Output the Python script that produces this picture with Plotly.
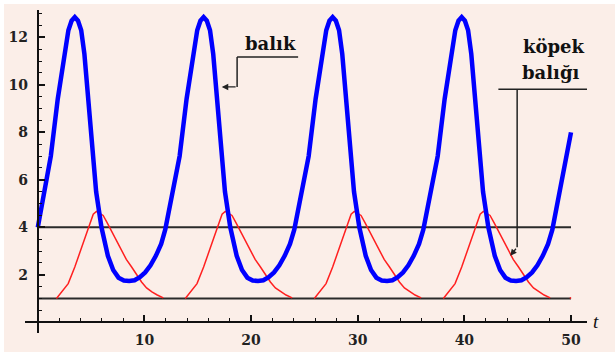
import plotly.graph_objects as go

# ---- data ----
fish_t = [0.0, 0.27, 0.77, 1.22, 1.87, 2.52, 2.87, 3.17, 3.47, 3.77, 4.07, 4.37, 4.67, 5.07, 5.47, 5.97,
          6.57, 7.07, 7.57, 8.07, 8.57, 9.07, 9.57, 10.07, 10.57, 11.07, 11.57, 11.95,
          12.35, 12.85, 13.3, 13.95, 14.6, 14.95, 15.25, 15.55, 15.85, 16.15, 16.45, 16.75, 17.15, 17.55, 18.05,
          18.65, 19.15, 19.65, 20.15, 20.65, 21.15, 21.65, 22.15, 22.65, 23.15, 23.65, 24.05,
          24.45, 24.95, 25.4, 26.05, 26.7, 27.05, 27.35, 27.65, 27.95, 28.25, 28.55, 28.85, 29.25, 29.65, 30.15,
          30.75, 31.25, 31.75, 32.25, 32.75, 33.25, 33.75, 34.25, 34.75, 35.25, 35.75, 36.15,
          36.55, 37.05, 37.5, 38.15, 38.8, 39.15, 39.45, 39.75, 40.05, 40.35, 40.65, 40.95, 41.35, 41.75, 42.25,
          42.85, 43.35, 43.85, 44.35, 44.85, 45.35, 45.85, 46.35, 46.85, 47.35, 47.85, 48.25,
          48.65, 49.15, 49.6, 50.0]
fish_y = [4.0, 4.7, 5.9, 7.0, 9.4, 11.3, 12.3, 12.7, 12.85, 12.7, 12.3, 11.3, 9.6, 7.3, 5.5, 4.0,
          2.8, 2.2, 1.88, 1.76, 1.74, 1.77, 1.9, 2.1, 2.4, 2.8, 3.3, 3.9,
          4.8, 5.9, 7.0, 9.4, 11.3, 12.3, 12.7, 12.85, 12.7, 12.3, 11.3, 9.6, 7.3, 5.5, 4.0,
          2.8, 2.2, 1.88, 1.76, 1.74, 1.77, 1.9, 2.1, 2.4, 2.8, 3.3, 3.9,
          4.8, 5.9, 7.0, 9.4, 11.3, 12.3, 12.7, 12.85, 12.7, 12.3, 11.3, 9.6, 7.3, 5.5, 4.0,
          2.8, 2.2, 1.88, 1.76, 1.74, 1.77, 1.9, 2.1, 2.4, 2.8, 3.3, 3.9,
          4.8, 5.9, 7.0, 9.4, 11.3, 12.3, 12.7, 12.85, 12.7, 12.3, 11.3, 9.6, 7.3, 5.5, 4.0,
          2.8, 2.2, 1.88, 1.76, 1.74, 1.77, 1.9, 2.1, 2.4, 2.8, 3.3, 3.9,
          4.8, 5.9, 7.0, 8.0]

shark_t = [1.75, 2.27, 2.85, 3.47, 4.1, 4.73, 5.2, 5.5, 5.8, 6.13, 6.5, 6.9, 7.4, 7.86, 8.3, 8.8, 9.25, 9.73,
           10.2, 10.7, 11.2, 11.77, None,
           13.83, 14.35, 14.93, 15.55, 16.18, 16.81, 17.28, 17.58, 17.88, 18.21, 18.58, 18.98, 19.48, 19.94,
           20.38, 20.88, 21.33, 21.81, 22.28, 22.78, 23.28, 23.85, None,
           25.93, 26.45, 27.03, 27.65, 28.28, 28.91, 29.38, 29.68, 29.98, 30.31, 30.68, 31.08, 31.58, 32.04,
           32.48, 32.98, 33.43, 33.91, 34.38, 34.88, 35.38, 35.95, None,
           38.03, 38.55, 39.13, 39.75, 40.38, 41.01, 41.48, 41.78, 42.08, 42.41, 42.78, 43.18, 43.68, 44.14,
           44.58, 45.08, 45.53, 46.01, 46.48, 46.98, 47.48, 48.05, None,
           49.9, 50.0]
shark_y = [1.0, 1.3, 1.63, 2.33, 3.17, 4.0, 4.55, 4.67, 4.6, 4.5, 4.2, 3.87, 3.45, 3.03, 2.65, 2.33, 2.0, 1.7,
           1.45, 1.28, 1.15, 1.03, None,
           1.0, 1.3, 1.63, 2.33, 3.17, 4.0, 4.55, 4.67, 4.6, 4.5, 4.2, 3.87, 3.45, 3.03,
           2.65, 2.33, 2.0, 1.7, 1.45, 1.28, 1.15, 1.03, None,
           1.0, 1.3, 1.63, 2.33, 3.17, 4.0, 4.55, 4.67, 4.6, 4.5, 4.2, 3.87, 3.45, 3.03,
           2.65, 2.33, 2.0, 1.7, 1.45, 1.28, 1.15, 1.03, None,
           1.0, 1.3, 1.63, 2.33, 3.17, 4.0, 4.55, 4.67, 4.6, 4.5, 4.2, 3.87, 3.45, 3.03,
           2.65, 2.33, 2.0, 1.7, 1.45, 1.28, 1.15, 1.03, None,
           1.0, 1.05]

level_t = [0, 50]
fish_level = [4, 4]
shark_level = [1, 1]

x_ticks = [10, 20, 30, 40, 50]
x_ticklabels = ["10", "20", "30", "40", "50"]
y_ticks = [2, 4, 6, 8, 10, 12]
y_ticklabels = ["2", "4", "6", "8", "10", "12"]

label_fish = "balık"
label_shark_1 = "köpek"
label_shark_2 = "balığı"
axis_label_t = "t"

# ---- figure ----
XR = [-1.2, 51.5]
YR = [-0.45, 13.15]
BG = "#FBEEE8"
SERIF = "DejaVu Serif"
ML, MR, MT, MB = 25, 28, 10, 19
PW, PH = 615 - ML - MR, 352 - MT - MB

fig = go.Figure()
fig.add_trace(go.Scatter(x=level_t, y=fish_level, mode="lines",
                         line=dict(color="#2a2a2a", width=2), hoverinfo="skip"))
fig.add_trace(go.Scatter(x=level_t, y=shark_level, mode="lines",
                         line=dict(color="#2a2a2a", width=2), hoverinfo="skip"))
fig.add_trace(go.Scatter(x=shark_t, y=shark_y, mode="lines", connectgaps=False,
                         line=dict(color="#FF2020", width=1.5)))
fig.add_trace(go.Scatter(x=fish_t, y=fish_y, mode="lines",
                         line=dict(color="#0000FF", width=4.5)))

# leader lines (data coordinates)
line_style = dict(color="#222222", width=1.5)
fig.add_shape(type="line", x0=18.69, y0=11.17, x1=24.41, y1=11.17, line=line_style)
fig.add_shape(type="line", x0=18.69, y0=11.17, x1=18.69, y1=9.91, line=line_style)
fig.add_shape(type="line", x0=43.19, y0=9.81, x1=51.64, y1=9.81, line=line_style)
fig.add_shape(type="line", x0=44.95, y0=9.81, x1=44.95, y1=3.16, line=line_style)

fig.add_annotation(x=17.25, y=9.91, ax=18.69, ay=9.91, axref="x", ayref="y",
                   showarrow=True, arrowhead=2, arrowsize=1, arrowwidth=1.3,
                   arrowcolor="#222222", text="")
fig.add_annotation(x=44.3, y=2.8, ax=44.95, ay=3.16, axref="x", ayref="y",
                   showarrow=True, arrowhead=2, arrowsize=1, arrowwidth=1.3,
                   arrowcolor="#222222", text="")

tfont = dict(family=SERIF, size=18, color="#111111", weight="bold")
fig.add_annotation(x=21.85, y=11.72, text=label_fish, showarrow=False, font=tfont)
fig.add_annotation(x=48.4, y=11.62, text=label_shark_1, showarrow=False, font=tfont)
fig.add_annotation(x=48.15, y=10.5, text=label_shark_2, showarrow=False, font=tfont)
fig.add_annotation(xref="paper", yref="paper", x=(601 - ML) / PW, y=(352 - MB - 334) / PH,
                   text=axis_label_t, showarrow=False,
                   font=dict(family="Liberation Serif", size=19, color="#111111", style="italic"))

xpos = (0 - YR[0]) / (YR[1] - YR[0])
ypos = (0 - XR[0]) / (XR[1] - XR[0])

tickfont = dict(family=SERIF, size=14, color="#222222", weight="bold")
fig.update_layout(
    width=615, height=352,
    margin=dict(l=ML, r=MR, t=MT, b=MB, autoexpand=False),
    paper_bgcolor=BG, plot_bgcolor=BG,
    showlegend=False,
    xaxis=dict(range=XR, anchor="free", position=xpos, showline=True, linecolor="#111111",
               linewidth=2, showgrid=False, zeroline=False, ticks="inside", ticklen=6,
               tickwidth=1.5, tickcolor="#111111", tickvals=x_ticks, ticktext=x_ticklabels,
               ticklabelstandoff=5,
               minor=dict(dtick=2, tick0=0, ticks="inside", ticklen=3, tickwidth=1.2,
                          tickcolor="#111111", showgrid=False),
               tickfont=tickfont, automargin=False),
    yaxis=dict(range=YR, anchor="free", position=ypos, showline=True, linecolor="#111111",
               linewidth=2, showgrid=False, zeroline=False, ticks="inside", ticklen=6,
               tickwidth=1.5, tickcolor="#111111", tickvals=y_ticks, ticktext=y_ticklabels,
               ticklabelstandoff=6,
               minor=dict(dtick=0.5, tick0=0, ticks="inside", ticklen=3, tickwidth=1.2,
                          tickcolor="#111111", showgrid=False),
               tickfont=tickfont, automargin=False),
)

# thin white border at the top and left of the image
fig.add_shape(type="rect", xref="paper", yref="paper", x0=-ML / PW, x1=(4 - ML) / PW, y0=-1, y1=2,
              fillcolor="white", line=dict(width=0), layer="below")
fig.add_shape(type="rect", xref="paper", yref="paper", x0=-1, x1=2, y0=1 + (MT - 4) / PH, y1=1 + MT / PH,
              fillcolor="white", line=dict(width=0), layer="below")

fig.write_html("out.html", config={"displayModeBar": False},
               post_script="document.body.style.margin='0px';")
